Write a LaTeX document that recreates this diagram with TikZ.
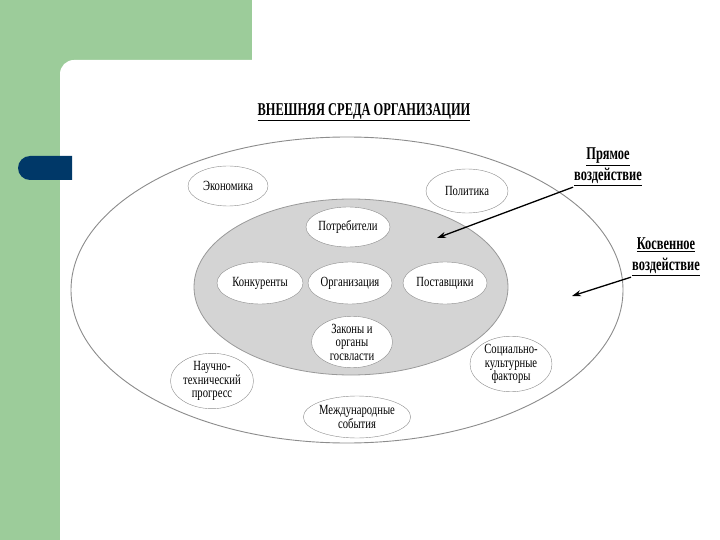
\documentclass[tikz,border=0pt]{standalone}
\usepackage{fontspec}
\setmainfont{Liberation Serif}
\newfontfamily\labelfont[FakeStretch=0.76]{Liberation Serif}
\newfontfamily\headfont[FakeStretch=0.69]{Liberation Serif}
\usetikzlibrary{shapes.geometric,arrows.meta}
\definecolor{slidegreen}{RGB}{156,204,154}
\definecolor{pillblue}{RGB}{0,56,104}
\definecolor{innergray}{RGB}{212,212,212}
\begin{document}
\begin{tikzpicture}[x=1bp,y=-1bp,
  factor/.style={ellipse,draw=black!45,fill=white,inner sep=0pt,align=center,
    font=\labelfont\fontsize{14bp}{13.5bp}\selectfont,minimum width=82bp,minimum height=42bp},
  heading/.style={font=\headfont\bfseries\fontsize{18bp}{21bp}\selectfont,align=center,inner sep=1bp},
  effect/.style={-{Stealth[length=9bp,width=6bp]},line width=1.3bp}]
\useasboundingbox (0,0) rectangle (720,540);
% slide background
\fill[white] (0,0) rectangle (720,540);
\fill[slidegreen] (0,0) rectangle (252,90);
\fill[slidegreen] (0,0) rectangle (60,540);
\fill[white,rounded corners=14bp] (60,60) rectangle (720,540);
\fill[pillblue,rounded corners=12bp] (72,156) -- (18,156) -- (18,180) -- (72,180);
% title
\node[heading] (title) at (364,112) {\underline{ВНЕШНЯЯ СРЕДА ОРГАНИЗАЦИИ}};
% environment ellipses
\draw[black!45,line width=0.9bp] (347,290) ellipse [x radius=276, y radius=153];
\draw[black!40,fill=innergray,line width=0.8bp] (351,287) ellipse [x radius=157, y radius=88];
% factors
\node[factor,minimum width=80bp,minimum height=40bp] (econ) at (228,186) {Экономика};
\node[factor,minimum width=82bp,minimum height=44bp] (polit) at (467,191) {Политика};
\node[factor,minimum width=84bp,minimum height=40bp] (cons) at (348,227) {Потребители};
\node[factor,minimum width=86bp] (comp) at (260,283) {Конкуренты};
\node[factor,minimum width=84bp] (org) at (350,283) {Организация};
\node[factor,minimum width=84bp] (supp) at (445,283) {Поставщики};
\node[factor,minimum width=81bp,minimum height=48bp] (law) at (352,342) {Законы и\\органы\\госвласти};
\node[factor,minimum width=83bp,minimum height=52bp] (tech) at (212,381) {Научно-\\технический\\прогресс};
\node[factor,minimum width=82bp,minimum height=55bp] (soc) at (511,364) {Социально-\\культурные\\факторы};
\node[factor,minimum width=80bp,minimum height=42bp] (intl) at (357,417) {Международные\\события};
% kinds of influence
\node[heading] (direct) at (608,167) {\underline{Прямое}\\\underline{воздействие}};
\node[heading] (indirect) at (666,257) {\underline{Косвенное}\\\underline{воздействие}};
\coordinate (directtip) at (437,238);
\coordinate (indirecttip) at (572,296);
\draw[effect] (direct.south west) -- (directtip);
\draw[effect] (indirect.south west) -- (indirecttip);
\end{tikzpicture}
\end{document}
